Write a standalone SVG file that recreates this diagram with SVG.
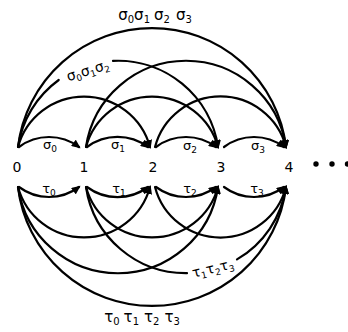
<svg xmlns="http://www.w3.org/2000/svg" width="348" height="332" viewBox="0 0 348 332">
<style>
.arc{fill:none;stroke:#000;stroke-width:2.2;stroke-linecap:round;marker-end:url(#ah)}
.t{font-family:"DejaVu Sans","Liberation Sans",sans-serif;fill:#000}
.n{font-size:14px;text-anchor:middle}
.m{font-size:13px;text-anchor:middle}
.b{font-size:15px;text-anchor:middle}
.s{font-size:9px}
.sb{font-size:10px}
</style>
<defs>
<marker id="ah" markerWidth="10" markerHeight="8" refX="7" refY="4" orient="auto" markerUnits="userSpaceOnUse">
<path d="M0,0 L9,4 L0,8 z" fill="#000"/>
</marker>
</defs>
<rect width="348" height="332" fill="#fff"/>
<g id="connectors">
<path class="arc" d="M19 147 A50 50 0 0 1 79 147"/>
<path class="arc" d="M87 147 A51 51 0 0 1 148 147"/>
<path class="arc" d="M156 147 A50 50 0 0 1 216 147"/>
<path class="arc" d="M224 147 A50 50 0 0 1 284 147"/>
<path class="arc" d="M18 147 A68.4 68.4 0 0 1 150 147"/>
<path class="arc" d="M86 147 A68.4 68.4 0 0 1 218 147"/>
<path class="arc" d="M155 147 A67.7 67.7 0 0 1 286 147"/>
<path class="arc" d="M18 147 A101.1 101.1 0 0 1 58.7 80 M113 60.9 A101.1 101.1 0 0 1 218 147"/>
<path class="arc" d="M86 147 A101.1 101.1 0 0 1 286 147"/>
<path class="arc" d="M18 147 A134.95 134.95 0 0 1 286 147"/>
<path class="arc" d="M19 187 A50 50 0 0 0 79 187"/>
<path class="arc" d="M87 187 A51 51 0 0 0 148 187"/>
<path class="arc" d="M156 187 A50 50 0 0 0 216 187"/>
<path class="arc" d="M224 187 A50 50 0 0 0 284 187"/>
<path class="arc" d="M18 187 A68.4 68.4 0 0 0 150 187"/>
<path class="arc" d="M86 187 A68.4 68.4 0 0 0 218 187"/>
<path class="arc" d="M155 187 A67.7 67.7 0 0 0 286 187"/>
<path class="arc" d="M18 187 A101.1 101.1 0 0 0 218 187"/>
<path class="arc" d="M86 187 A101.1 101.1 0 0 0 187 273.2 M237 259.4 A101.1 101.1 0 0 0 286 187"/>
<path class="arc" d="M18 187 A134.95 134.95 0 0 0 286 187"/>
</g>
<g id="labels">
<text class="t m" x="50" y="149">σ<tspan class="s" dy="3">0</tspan></text>
<text class="t m" x="118" y="149">σ<tspan class="s" dy="3">1</tspan></text>
<text class="t m" x="190" y="150">σ<tspan class="s" dy="3">2</tspan></text>
<text class="t m" x="258" y="150">σ<tspan class="s" dy="3">3</tspan></text>
<text class="t m" x="49" y="193">τ<tspan class="s" dy="3">0</tspan></text>
<text class="t m" x="119" y="193">τ<tspan class="s" dy="3">1</tspan></text>
<text class="t m" x="190" y="193">τ<tspan class="s" dy="3">2</tspan></text>
<text class="t m" x="257" y="193">τ<tspan class="s" dy="3">3</tspan></text>
<text class="t b" x="155" y="20">σ<tspan class="sb" dy="3">0</tspan><tspan dy="-3">σ</tspan><tspan class="sb" dy="3">1</tspan><tspan dx="4" dy="-3">σ</tspan><tspan class="sb" dy="3">2</tspan><tspan dx="6" dy="-3">σ</tspan><tspan class="sb" dy="3">3</tspan></text>
<text class="t b" x="142" y="322">τ<tspan class="sb" dy="3">0</tspan><tspan dx="4" dy="-3">τ</tspan><tspan class="sb" dy="3">1</tspan><tspan dx="5" dy="-3">τ</tspan><tspan class="sb" dy="3">2</tspan><tspan dx="5" dy="-3">τ</tspan><tspan class="sb" dy="3">3</tspan></text>
<text class="t b" x="88" y="75" transform="rotate(-17 88 71)" style="font-size:14px">σ<tspan class="s" dy="3">0</tspan><tspan dy="-3">σ</tspan><tspan class="s" dy="3">1</tspan><tspan dy="-3">σ</tspan><tspan class="s" dy="3">2</tspan></text>
<text class="t b" x="213" y="273" transform="rotate(-13 213 269)" style="font-size:14px">τ<tspan class="s" dy="3">1</tspan><tspan dy="-3">τ</tspan><tspan class="s" dy="3">2</tspan><tspan dy="-3">τ</tspan><tspan class="s" dy="3">3</tspan></text>
</g>
<g id="node0"><text class="t n" x="17" y="172">0</text></g>
<g id="node1"><text class="t n" x="84" y="172">1</text></g>
<g id="node2"><text class="t n" x="153" y="172">2</text></g>
<g id="node3"><text class="t n" x="221" y="172">3</text></g>
<g id="node4"><text class="t n" x="289" y="172">4</text></g>
<g id="ellipsis">
<circle cx="316" cy="164" r="2.7"/>
<circle cx="332" cy="164" r="2.7"/>
<circle cx="347.5" cy="164" r="2.7"/>
</g>
</svg>
